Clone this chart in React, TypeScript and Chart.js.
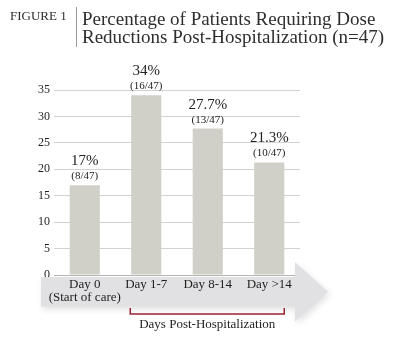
import React, { useEffect, useRef } from "react";
import { Chart, registerables } from "chart.js";

Chart.register(...registerables);

const categories = ["Day 0", "Day 1-7", "Day 8-14", "Day >14"];
const subLabels = ["(Start of care)", "", "", ""];
const values = [17, 34, 27.7, 21.3];
const fractions = ["(8/47)", "(16/47)", "(13/47)", "(10/47)"];
const figureLabel = "FIGURE 1";
const titleLines = ["Percentage of Patients Requiring Dose", "Reductions Post-Hospitalization (n=47)"];
const bracketLabel = "Days Post-Hospitalization";
const yMin = 0;
const yMax = 35;
const yStep = 5;
const bracketFrom = 1;
const bracketTo = 3;

const SERIF = "'Liberation Serif', 'DejaVu Serif', serif";

const decorPlugin = {
  id: "decor",
  beforeDatasetsDraw(chart: any) {
    const ctx = chart.ctx;
    const area = chart.chartArea;
    const yz = chart.scales.y.getPixelForValue(0);
    ctx.save();
    ctx.shadowColor = "rgba(0,0,0,0.12)";
    ctx.shadowBlur = 6;
    ctx.shadowOffsetX = 2;
    ctx.shadowOffsetY = 3;
    ctx.fillStyle = "#e1e1e3";
    const top = yz + 2;
    const bot = yz + 31.5;
    const left = 41;
    const bodyRight = area.right - 5;
    const headTop = yz - 13;
    const headBot = yz + 46.5;
    const tipX = bodyRight + 33;
    ctx.beginPath();
    ctx.moveTo(left, top);
    ctx.lineTo(bodyRight, top);
    ctx.lineTo(bodyRight, headTop);
    ctx.lineTo(tipX, (top + bot) / 2);
    ctx.lineTo(bodyRight, headBot);
    ctx.lineTo(bodyRight, bot);
    ctx.lineTo(left, bot);
    ctx.closePath();
    ctx.fill();
    ctx.restore();
  },
  afterDatasetsDraw(chart: any) {
    const ctx = chart.ctx;
    const xs = chart.scales.x;
    const ys = chart.scales.y;
    const yz = ys.getPixelForValue(0);
    ctx.save();
    ctx.textAlign = "center";
    ctx.textBaseline = "alphabetic";
    values.forEach((v, i) => {
      const x = xs.getPixelForValue(i);
      const yt = ys.getPixelForValue(v);
      ctx.fillStyle = "#222";
      ctx.font = `15px ${SERIF}`;
      ctx.fillText(`${v}%`, x, yt - 20);
      ctx.font = `11px ${SERIF}`;
      ctx.fillText(fractions[i], x, yt - 6);
    });
    ctx.fillStyle = "#1e1e1e";
    ctx.font = `13px ${SERIF}`;
    categories.forEach((c, i) => {
      const x = xs.getPixelForValue(i);
      ctx.fillText(c, x, yz + 13);
      if (subLabels[i]) ctx.fillText(subLabels[i], x, yz + 25.5);
    });
    const bx1 = xs.getPixelForValue(bracketFrom) - 16;
    const bx2 = xs.getPixelForValue(bracketTo) + 15;
    ctx.strokeStyle = "#9b2335";
    ctx.lineWidth = 1.5;
    ctx.beginPath();
    ctx.moveTo(bx1, yz + 33);
    ctx.lineTo(bx1, yz + 39);
    ctx.lineTo(bx2, yz + 39);
    ctx.lineTo(bx2, yz + 33);
    ctx.stroke();
    ctx.fillStyle = "#1e1e1e";
    ctx.fillText(bracketLabel, (bx1 + bx2) / 2, yz + 53);
    ctx.textAlign = "left";
    ctx.fillStyle = "#2e2e2e";
    ctx.font = `13px ${SERIF}`;
    ctx.fillText(figureLabel, 10, 20);
    ctx.strokeStyle = "#9a9a9a";
    ctx.lineWidth = 1;
    ctx.beginPath();
    ctx.moveTo(76.5, 7);
    ctx.lineTo(76.5, 47);
    ctx.stroke();
    ctx.font = `19px ${SERIF}`;
    ctx.fillStyle = "#2e2e2e";
    ctx.fillText(titleLines[0], 82, 25);
    ctx.fillText(titleLines[1], 82, 43);
    ctx.restore();
  },
};

export default function App() {
  const ref = useRef<HTMLCanvasElement>(null);
  useEffect(() => {
    document.body.style.margin = "0";
    const chart = new Chart(ref.current!, {
      type: "bar",
      data: {
        labels: categories,
        datasets: [
          {
            data: values,
            backgroundColor: "#d0d0c8",
            barPercentage: 0.49,
            categoryPercentage: 1,
          },
        ],
      },
      options: {
        responsive: false,
        animation: false,
        layout: { padding: { left: 0, top: 90, right: 115, bottom: 79 } },
        plugins: { legend: { display: false }, tooltip: { enabled: false } },
        scales: {
          x: { display: false, offset: true },
          y: {
            min: yMin,
            max: yMax,
            afterFit: (s: any) => {
              s.width = 54;
            },
            border: { display: false },
            grid: {
              color: (c: any) => (c.tick && c.tick.value === 0 ? "#b8b8b8" : "#d2d2d2"),
              drawTicks: false,
              lineWidth: 1,
            },
            ticks: {
              stepSize: yStep,
              padding: 4,
              color: "#1e1e1e",
              font: { family: SERIF, size: 12 },
            },
          },
        },
      },
      plugins: [decorPlugin],
    });
    return () => chart.destroy();
  }, []);
  return (
    <div style={{ position: "absolute", left: 0, top: 0, width: 415, height: 354 }}>
      <canvas ref={ref} width={415} height={354} style={{ width: 415, height: 354 }} />
    </div>
  );
}
